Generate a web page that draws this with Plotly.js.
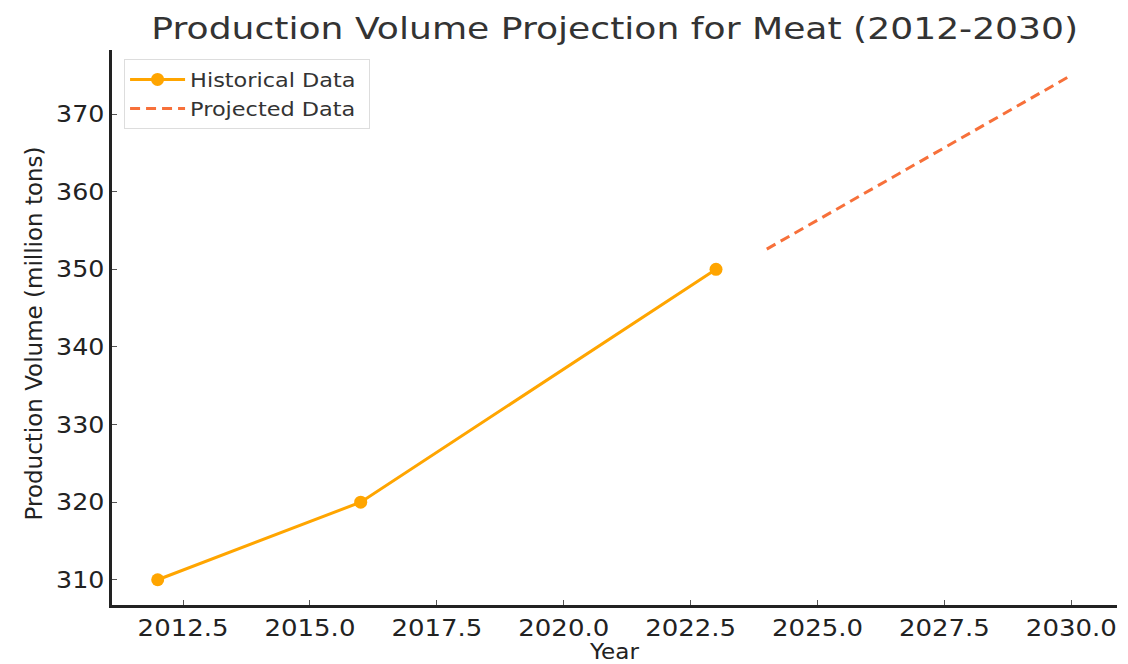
<!DOCTYPE html>
<html>
<head>
<meta charset="utf-8">
<script src="https://cdn.plot.ly/plotly-3.0.1.min.js"></script>
<style>html,body{margin:0;padding:0;background:#fff;}#chart{width:1128px;height:664px;}</style>
</head>
<body>
<div id="chart"></div>
<script>
const histYears = [2012, 2016, 2023];
const histValues = [310, 320, 350];
const projYears = [2024, 2030];
const projValues = [352.6, 375];
const xTicks = [2012.5, 2015.0, 2017.5, 2020.0, 2022.5, 2025.0, 2027.5, 2030.0];
const xTickLabels = ['2012.5', '2015.0', '2017.5', '2020.0', '2022.5', '2025.0', '2027.5', '2030.0'];
const yTicks = [310, 320, 330, 340, 350, 360, 370];

const font = 'DejaVu Sans, sans-serif';
const traces = [
  {x: histYears, y: histValues, mode: 'lines+markers', name: 'Historical Data',
   line: {color: '#FFA500', width: 3}, marker: {color: '#FFA500', size: 13}},
  {x: projYears, y: projValues, mode: 'lines', name: 'Projected Data',
   line: {color: '#F7703A', width: 3, dash: '10px,6px'}}
];
const layout = {
  width: 1128, height: 664,
  margin: {l: 112, r: 11, t: 50, b: 59},
  paper_bgcolor: '#fff', plot_bgcolor: '#fff',
  title: {text: 'Production Volume Projection for Meat (2012-2030)', x: 0.545, xanchor: 'center', y: 0.958, yanchor: 'middle',
          font: {family: font, size: 31, color: '#333'}},
  font: {family: font, color: '#222'},
  xaxis: {range: [2011.1, 2030.9], tickvals: xTicks, ticktext: xTickLabels,
          showgrid: false, zeroline: false, showline: true, linecolor: '#222', linewidth: 3,
          ticks: 'inside', ticklen: 5, tickcolor: '#555', tickfont: {family: font, size: 23, color: '#222'},
          title: {text: 'Year', font: {family: font, size: 21, color: '#222'}, standoff: 0}},
  yaxis: {range: [306.75, 378.25], tickvals: yTicks,
          showgrid: false, zeroline: false, showline: true, linecolor: '#222', linewidth: 3,
          ticks: 'inside', ticklen: 5, tickcolor: '#555', tickfont: {family: font, size: 23, color: '#222'},
          title: {text: 'Production Volume (million tons)', font: {family: font, size: 23, color: '#222'}, standoff: 12}},
  legend: {x: 0.012, y: 0.984, xanchor: 'left', yanchor: 'top', bgcolor: '#fff', itemwidth: 55,
           bordercolor: '#ddd', borderwidth: 1, font: {family: font, size: 20, color: '#333'}},
  showlegend: true
};
const gd = document.getElementById('chart');
Plotly.newPlot(gd, traces, layout, {displayModeBar: false, staticPlot: true}).then(function () {
  function stretch(sel, f) {
    let maxDelta = 0;
    gd.querySelectorAll(sel).forEach(function (t) {
      const L = t.getComputedTextLength();
      t.setAttribute('textLength', L * f);
      t.setAttribute('lengthAdjust', 'spacingAndGlyphs');
      maxDelta = Math.max(maxDelta, L * (f - 1));
    });
    return maxDelta;
  }
  stretch('.gtitle', 1.165);
  stretch('.xtick text', 1.13);
  stretch('.ytick text', 1.1);
  stretch('.g-xtitle text', 1.1);
  const d = stretch('.legend .legendtext', 1.12);
  const bg = gd.querySelector('.legend rect.bg');
  if (bg) bg.setAttribute('width', parseFloat(bg.getAttribute('width')) + d + 8);
  gd.querySelectorAll('.legend [clip-path]').forEach(function (e) { e.removeAttribute('clip-path'); });
  const yt = gd.querySelector('.g-ytitle');
  if (yt) yt.setAttribute('transform', 'translate(0,6)');
});
</script>
</body>
</html>
